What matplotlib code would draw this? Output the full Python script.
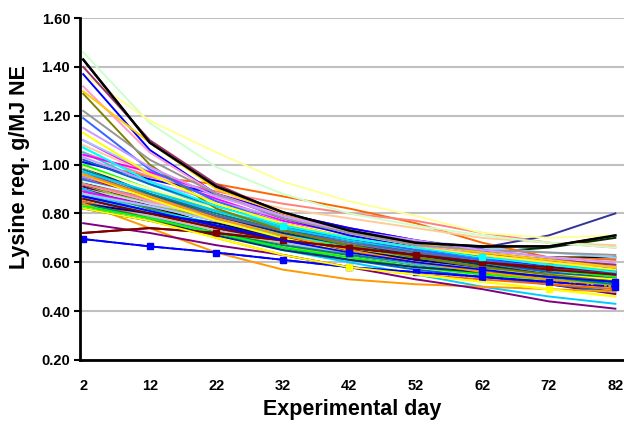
import matplotlib
matplotlib.use("Agg")
import matplotlib.pyplot as plt

plt.rcParams['font.family'] = ['Liberation Sans', 'DejaVu Sans']

# days at which the curves were read (every 10 days)
days = [2, 12, 22, 32, 42, 52, 62, 72, 82]
day_ticks = [2, 12, 22, 32, 42, 52, 62, 72, 82]
y_ticks = [0.20, 0.40, 0.60, 0.80, 1.00, 1.20, 1.40, 1.60]

# pigs starting high (> 1.1 g/MJ NE)
high_start = [
    [1.43, 1.09, 0.91, 0.805, 0.73, 0.68, 0.665, 0.665, 0.71],
    [1.46, 1.17, 0.99, 0.88, 0.80, 0.75, 0.71, 0.68, 0.66],
    [1.37, 1.18, 1.05, 0.93, 0.85, 0.79, 0.72, 0.70, 0.71],
    [1.40, 1.10, 0.92, 0.80, 0.73, 0.68, 0.64, 0.61, 0.59],
    [1.37, 1.06, 0.88, 0.78, 0.71, 0.66, 0.62, 0.58, 0.55],
    [1.32, 1.05, 0.88, 0.79, 0.72, 0.67, 0.63, 0.60, 0.58],
    [1.29, 1.00, 0.82, 0.73, 0.67, 0.62, 0.58, 0.55, 0.52],
    [1.30, 1.09, 0.90, 0.80, 0.73, 0.68, 0.64, 0.61, 0.58],
    [1.22, 1.02, 0.88, 0.78, 0.72, 0.67, 0.65, 0.64, 0.63],
    [1.19, 0.98, 0.85, 0.76, 0.70, 0.65, 0.61, 0.58, 0.55],
    [1.15, 0.99, 0.87, 0.79, 0.73, 0.69, 0.65, 0.62, 0.60],
    [1.13, 0.96, 0.84, 0.76, 0.70, 0.66, 0.63, 0.60, 0.57],
]
high_colors = ['#000000', '#CCFFCC', '#FFFF99', '#993366', '#0000FF', '#FF99CC',
               '#808000', '#FFCC00', '#969696', '#3366FF', '#CC99FF', '#FFFF00']

# pigs starting around 0.95 - 1.1
mid_start = [
    [1.10, 0.96, 0.86, 0.77, 0.71, 0.67, 0.63, 0.60, 0.57],
    [1.10, 0.97, 0.87, 0.80, 0.74, 0.69, 0.66, 0.64, 0.62],
    [1.01, 0.95, 0.92, 0.87, 0.82, 0.76, 0.68, 0.62, 0.61],
    [1.05, 0.95, 0.89, 0.84, 0.80, 0.77, 0.72, 0.68, 0.66],
    [1.08, 0.96, 0.88, 0.82, 0.78, 0.74, 0.70, 0.68, 0.67],
    [1.07, 0.93, 0.83, 0.75, 0.70, 0.66, 0.62, 0.59, 0.56],
    [1.05, 0.92, 0.82, 0.74, 0.69, 0.65, 0.61, 0.58, 0.55],
    [1.04, 0.97, 0.88, 0.80, 0.74, 0.69, 0.65, 0.62, 0.58],
    [1.01, 0.94, 0.88, 0.80, 0.74, 0.69, 0.65, 0.61, 0.57],
    [1.00, 0.90, 0.81, 0.74, 0.69, 0.64, 0.60, 0.57, 0.54],
    [0.99, 0.88, 0.79, 0.72, 0.67, 0.63, 0.59, 0.55, 0.52],
    [0.96, 0.87, 0.79, 0.73, 0.69, 0.67, 0.66, 0.71, 0.80],
    [1.02, 0.92, 0.83, 0.75, 0.69, 0.64, 0.60, 0.56, 0.53],
    [1.03, 0.93, 0.85, 0.78, 0.72, 0.68, 0.64, 0.61, 0.59],
    [0.99, 0.90, 0.82, 0.76, 0.71, 0.67, 0.64, 0.62, 0.60],
    [0.98, 0.88, 0.80, 0.73, 0.67, 0.62, 0.58, 0.54, 0.51],
    [0.97, 0.87, 0.79, 0.73, 0.68, 0.64, 0.61, 0.58, 0.56],
    [0.97, 0.89, 0.81, 0.74, 0.69, 0.65, 0.62, 0.59, 0.57],
    [0.96, 0.86, 0.77, 0.70, 0.64, 0.60, 0.57, 0.55, 0.53],
    [0.96, 0.87, 0.78, 0.71, 0.65, 0.60, 0.56, 0.53, 0.50],
]
mid_colors = ['#FF00FF', '#99CCFF', '#FF6600', '#FF8080', '#FFCC99', '#00FFFF',
              '#33CCCC', '#FF00FF', '#0000FF', '#00FF00', '#003366', '#333399',
              '#0066CC', '#CC99FF', '#FFFF99', '#008080', '#666699', '#00CCFF',
              '#FFFF00', '#FF9900']

# pigs starting below 0.95
low_start = [
    [0.95, 0.86, 0.78, 0.71, 0.66, 0.62, 0.59, 0.56, 0.53],
    [0.95, 0.88, 0.81, 0.75, 0.70, 0.66, 0.63, 0.60, 0.58],
    [0.94, 0.83, 0.74, 0.68, 0.63, 0.59, 0.56, 0.53, 0.50],
    [0.94, 0.85, 0.77, 0.71, 0.66, 0.62, 0.60, 0.58, 0.57],
    [0.94, 0.86, 0.78, 0.72, 0.67, 0.63, 0.59, 0.56, 0.52],
    [0.93, 0.84, 0.77, 0.70, 0.65, 0.61, 0.57, 0.54, 0.52],
    [0.93, 0.83, 0.75, 0.70, 0.67, 0.64, 0.63, 0.62, 0.62],
    [0.93, 0.87, 0.80, 0.74, 0.69, 0.65, 0.62, 0.60, 0.59],
    [0.92, 0.82, 0.75, 0.70, 0.67, 0.65, 0.64, 0.66, 0.70],
    [0.92, 0.85, 0.78, 0.72, 0.67, 0.63, 0.60, 0.58, 0.56],
    [0.92, 0.86, 0.79, 0.73, 0.68, 0.64, 0.61, 0.58, 0.55],
    [0.91, 0.84, 0.77, 0.71, 0.66, 0.62, 0.59, 0.56, 0.54],
    [0.91, 0.82, 0.74, 0.68, 0.63, 0.59, 0.55, 0.51, 0.47],
    [0.90, 0.84, 0.79, 0.74, 0.69, 0.65, 0.62, 0.60, 0.58],
    [0.90, 0.82, 0.75, 0.70, 0.65, 0.61, 0.58, 0.56, 0.54],
    [0.90, 0.80, 0.72, 0.65, 0.60, 0.55, 0.50, 0.46, 0.43],
    [0.89, 0.82, 0.75, 0.69, 0.64, 0.60, 0.57, 0.55, 0.53],
    [0.89, 0.83, 0.77, 0.72, 0.67, 0.63, 0.60, 0.57, 0.54],
    [0.88, 0.81, 0.74, 0.68, 0.63, 0.59, 0.56, 0.53, 0.50],
    [0.88, 0.83, 0.77, 0.72, 0.68, 0.64, 0.61, 0.58, 0.56],
    [0.87, 0.80, 0.73, 0.67, 0.62, 0.58, 0.55, 0.52, 0.49],
    [0.87, 0.81, 0.75, 0.69, 0.64, 0.60, 0.57, 0.54, 0.52],
    [0.86, 0.79, 0.72, 0.66, 0.61, 0.57, 0.54, 0.51, 0.48],
    [0.86, 0.80, 0.74, 0.69, 0.66, 0.63, 0.60, 0.58, 0.56],
    [0.86, 0.81, 0.76, 0.71, 0.67, 0.63, 0.60, 0.57, 0.55],
    [0.85, 0.79, 0.73, 0.68, 0.64, 0.60, 0.58, 0.56, 0.55],
    [0.85, 0.78, 0.70, 0.63, 0.58, 0.55, 0.53, 0.51, 0.49],
    [0.84, 0.80, 0.76, 0.70, 0.65, 0.61, 0.58, 0.55, 0.53],
    [0.84, 0.78, 0.72, 0.67, 0.63, 0.60, 0.57, 0.55, 0.53],
    [0.84, 0.74, 0.64, 0.57, 0.53, 0.51, 0.50, 0.49, 0.48],
    [0.83, 0.78, 0.72, 0.66, 0.62, 0.58, 0.55, 0.53, 0.51],
    [0.82, 0.77, 0.70, 0.63, 0.58, 0.55, 0.52, 0.49, 0.46],
    [0.82, 0.77, 0.71, 0.65, 0.61, 0.58, 0.56, 0.54, 0.52],
    [0.76, 0.72, 0.67, 0.63, 0.58, 0.53, 0.49, 0.44, 0.41],
    [0.72, 0.74, 0.72, 0.69, 0.66, 0.63, 0.60, 0.57, 0.55],
    [0.695, 0.665, 0.64, 0.61, 0.58, 0.56, 0.54, 0.52, 0.50],
]
low_colors = ['#FF0000', '#9999FF', '#993300', '#808080', '#3366FF', '#008000',
              '#000000', '#CCFFFF', '#003300', '#FF99CC', '#FF8080', '#99CC00',
              '#660066', '#CCCCFF', '#333333', '#00CCFF', '#339966', '#FF00FF',
              '#33CCCC', '#99CCFF', '#FFCC00', '#0000FF', '#0066CC', '#800000',
              '#00FFFF', '#C0C0C0', '#FF6600', '#000080', '#008080', '#FF9900',
              '#00FF00', '#FFFF00', '#003366', '#800080', '#800000', '#0000FF']

fig = plt.figure(figsize=(6.24, 4.32), dpi=100)
ax = fig.add_axes([0.128, 0.1667, 0.872, 0.7916])

for series, cols in [(low_start, low_colors), (mid_start, mid_colors), (high_start, high_colors)]:
    for vals, c in zip(series, cols):
        ax.plot(days, vals, color=c, lw=1.4, solid_joinstyle='round')

# a few series drawn with square markers / dash-dot as in the original
ax.plot(days, low_start[-1], color='#0000FF', lw=1.2, ls='-.', marker='s', ms=4)
ax.plot(days, low_start[-2], color='#800000', lw=1.5, marker='s', ms=4, markevery=[2, 4, 6])
ax.plot(days, low_start[23], color='#800000', lw=1.3, marker='s', ms=4, markevery=[3, 5, 7])
ax.plot(days, low_start[21], color='#0000FF', lw=1.3, marker='s', ms=4, markevery=[4, 6, 8])
ax.plot(days, mid_start[5], color='#00FFFF', lw=1.3, marker='s', ms=4, markevery=[3, 6])
ax.plot(days, low_start[31], color='#FFFF00', lw=1.3, marker='s', ms=4, markevery=[4, 7])
ax.plot(days, high_start[0], color='#000000', lw=1.8)

ax.set_xlim(1.5, 83.3)
ax.set_ylim(0.20, 1.60)
ax.set_yticks(y_ticks)
ax.set_yticklabels([f"{v:.2f}" for v in y_ticks], fontweight='bold', fontsize=10.5)
ax.set_xticks(day_ticks)
ax.set_xticklabels([str(d) for d in day_ticks], fontweight='bold', fontsize=10.5)
ax.tick_params(axis='x', length=0, pad=14)
ax.tick_params(axis='y', length=4, width=1.5, direction='out', pad=3)

ax.grid(axis='y', color='#C0C0C0', lw=1.5)
ax.set_axisbelow(True)
for s in ['top', 'right']:
    ax.spines[s].set_visible(False)
for s in ['left', 'bottom']:
    ax.spines[s].set_linewidth(2)
    ax.spines[s].set_color('black')

ax.set_ylabel('Lysine req. g/MJ NE', fontsize=15.5, fontweight='bold')
ax.yaxis.set_label_coords(-0.092, 0.564)
ax.set_xlabel('Experimental day', fontsize=15.5, fontweight='bold')
ax.xaxis.set_label_coords(0.5, -0.113)

fig.savefig('out.png', dpi=100)
